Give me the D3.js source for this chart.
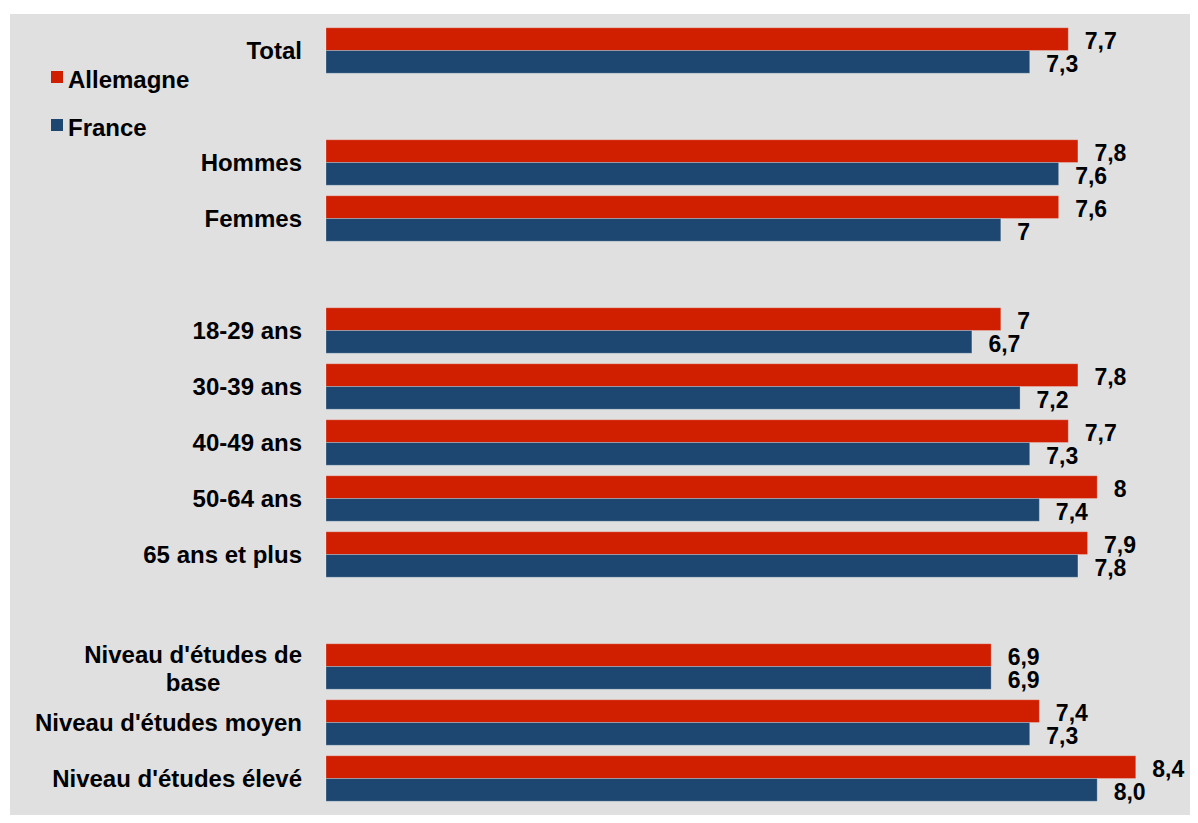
<!DOCTYPE html>
<html>
<head>
<meta charset="utf-8">
<script src="https://cdn.jsdelivr.net/npm/d3@7"></script>
<style>
  html, body { margin: 0; padding: 0; background: #ffffff; }
  svg { display: block; }
  text { font-family: "Liberation Sans", Arial, sans-serif; font-weight: bold; fill: #000; }
</style>
</head>
<body>
<svg id="chart" width="1198" height="823"></svg>
<script>
// Categories (empty strings are blank spacer rows, as in the original chart)
const categories = ["Total", "", "Hommes", "Femmes", "", "18-29 ans", "30-39 ans", "40-49 ans", "50-64 ans", "65 ans et plus", "", "Niveau d'études de\nbase", "Niveau d'études moyen", "Niveau d'études élevé"];
const seriesNames = ["Allemagne", "France"];
const allemagneValues = [7.7, null, 7.8, 7.6, null, 7.0, 7.8, 7.7, 8.0, 7.9, null, 6.9, 7.4, 8.4];
const franceValues    = [7.3, null, 7.6, 7.0, null, 6.7, 7.2, 7.3, 7.4, 7.8, null, 6.9, 7.3, 8.0];
const allemagneLabels = ["7,7", null, "7,8", "7,6", null, "7", "7,8", "7,7", "8", "7,9", null, "6,9", "7,4", "8,4"];
const franceLabels    = ["7,3", null, "7,6", "7", null, "6,7", "7,2", "7,3", "7,4", "7,8", null, "6,9", "7,3", "8,0"];
const colors = ["#CF1F00", "#1D4770"];

const svg = d3.select("#chart");

svg.append("rect").attr("x", 10).attr("y", 14).attr("width", 1180).attr("height", 801).attr("fill", "#E0E0E0");

const rows = categories.map((c, i) => ({ id: i, label: c, vals: [allemagneValues[i], franceValues[i]], labs: [allemagneLabels[i], franceLabels[i]] }));

const x = d3.scaleLinear().domain([0, 9]).range([326, 326 + 9 * 96.4]);
const y = d3.scaleBand().domain(rows.map(r => r.id)).range([22.5, 806.5]).paddingInner(0.1875).paddingOuter(0.09375);
const ys = d3.scaleBand().domain(seriesNames).range([0, y.bandwidth()]);

const g = svg.append("g");
rows.forEach(r => {
  seriesNames.forEach((s, si) => {
    const v = r.vals[si];
    if (v == null) return;
    const by = y(r.id) + ys(s);
    g.append("rect")
      .attr("x", x(0)).attr("y", by)
      .attr("width", x(v) - x(0)).attr("height", ys.bandwidth())
      .attr("fill", colors[si])
      .attr("stroke", "rgba(255,255,255,0.25)").attr("stroke-width", 1);
    g.append("text")
      .attr("x", x(v) + 16.5)
      .attr("y", by + ys.bandwidth() / 2 + 10)
      .attr("font-size", "23px")
      .text(r.labs[si]);
  });
});

// Category labels
const labelRight = 302;
const fs = 24;
rows.forEach(r => {
  if (!r.label) return;
  const cy = y(r.id) + y.bandwidth() / 2;
  const lines = r.label.split("\n");
  if (lines.length === 1) {
    g.append("text").attr("x", labelRight).attr("y", cy + 8.8)
      .attr("text-anchor", "end").attr("font-size", fs + "px").text(r.label);
  } else {
    const t = g.append("text").attr("font-size", fs + "px").attr("text-anchor", "middle");
    const tmp = g.append("text").attr("font-size", fs + "px").text(lines[0]);
    const w = tmp.node().getComputedTextLength();
    tmp.remove();
    const cx = labelRight - w / 2;
    const lh = 28;
    lines.forEach((ln, li) => {
      t.append("tspan").attr("x", cx)
        .attr("y", cy + 8.8 + 2 + (li - (lines.length - 1) / 2) * lh)
        .text(ln);
    });
  }
});

// Legend
const legend = svg.append("g");
seriesNames.forEach((s, i) => {
  const ly = 71 + i * 48;
  legend.append("rect").attr("x", 51).attr("y", ly).attr("width", 12).attr("height", 12).attr("fill", colors[i]);
  legend.append("text").attr("x", 68).attr("y", ly + 17).attr("font-size", fs + "px").text(s);
});
</script>
</body>
</html>
